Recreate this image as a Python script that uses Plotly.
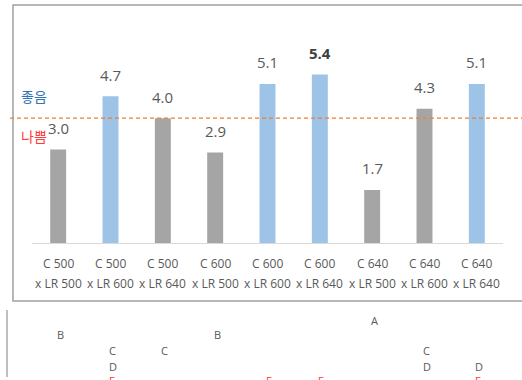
import plotly.graph_objects as go

# ---- data ----
cat_line1 = ["C 500", "C 500", "C 500", "C 600", "C 600", "C 600", "C 640", "C 640", "C 640"]
cat_line2 = ["x LR 500", "x LR 600", "x LR 640", "x LR 500", "x LR 600", "x LR 640", "x LR 500", "x LR 600", "x LR 640"]
scores = [3.0, 4.7, 4.0, 2.9, 5.1, 5.4, 1.7, 4.3, 5.1]
threshold = 4.0
sig_letters = ["B", "CD", "C", "B", "", "", "A", "CD", "D"]
red_marks = [False, True, False, False, True, True, False, False, True]

W, H = 522, 380
cats = [f"{a} {b}" for a, b in zip(cat_line1, cat_line2)]
best = max(scores)

def py(p):  # pixel-from-top -> paper y
    return (H - p) / H

ydom = [py(243), py(243 - 6 * 31.2)]
xdom = [32 / W, 503 / W]

colors = ["#9DC3E6" if v > 4.5 else "#A5A5A5" for v in scores]

fig = go.Figure()
fig.add_trace(go.Bar(x=cats, y=scores, marker=dict(color=colors, line=dict(width=0)),
                     hoverinfo="skip", showlegend=False))

ann = []
for c, v in zip(cats, scores):
    bold = v == best
    ann.append(dict(x=c, y=v, xref="x", yref="y", text=(f"<b>{v:.1f}</b>" if bold else f"{v:.1f}"),
                    showarrow=False, yshift=21.5, yanchor="middle",
                    font=dict(family="Open Sans", size=15, color="#404040" if bold else "#595959")))
for c, l1, l2 in zip(cats, cat_line1, cat_line2):
    ann.append(dict(x=c, y=py(263), xref="x", yref="paper", text=l1, showarrow=False, yanchor="middle",
                    font=dict(family="Open Sans", size=12, color="#595959")))
    ann.append(dict(x=c, y=py(283), xref="x", yref="paper", text=l2, showarrow=False, yanchor="middle",
                    font=dict(family="Open Sans", size=12, color="#595959")))

row_pix = {"A": 320, "B": 334.5, "C": 350, "D": 366}
for c, letters, red in zip(cats, sig_letters, red_marks):
    for L in letters:
        ann.append(dict(x=c, y=py(row_pix[L]), xref="x", yref="paper", text=L, showarrow=False,
                        yanchor="middle", xshift=2,
                        font=dict(family="Open Sans", size=11, color="#595959")))
    if red:
        ann.append(dict(x=c, y=py(381), xref="x", yref="paper", text="E", showarrow=False,
                        yanchor="middle", xshift=1,
                        font=dict(family="Open Sans", size=11, color="#FF3333")))

ann.append(dict(x=34 / W, y=py(96), xref="paper", yref="paper", text="좋음", showarrow=False,
                xanchor="center", yanchor="middle",
                font=dict(family="Noto Sans CJK KR", size=14, color="#2E75B6")))
ann.append(dict(x=34 / W, y=py(136), xref="paper", yref="paper", text="나쁨", showarrow=False,
                xanchor="center", yanchor="middle",
                font=dict(family="Noto Sans CJK KR", size=14, color="#FF3B3B")))

thr_paper = ydom[0] + threshold / 6 * (ydom[1] - ydom[0])
shapes = [
    dict(type="rect", xref="paper", yref="paper", x0=13 / W, x1=1.02, y0=py(301), y1=py(5),
         line=dict(color="#A0A0A0", width=1.5), layer="below"),
    dict(type="line", xref="paper", yref="paper", x0=10 / W, x1=1, y0=thr_paper, y1=thr_paper,
         line=dict(color="#ED7D31", width=1.3, dash="4px,3px")),
    dict(type="line", xref="paper", yref="paper", x0=7 / W, x1=7 / W, y0=py(310), y1=py(377),
         line=dict(color="#808080", width=1)),
]

fig.update_layout(
    width=W, height=H, autosize=False, margin=dict(l=0, r=0, t=0, b=0),
    paper_bgcolor="white", plot_bgcolor="white", bargap=0.695,
    xaxis=dict(domain=xdom, showline=True, linecolor="#D9D9D9", linewidth=1, showticklabels=False,
               ticks="", showgrid=False, zeroline=False, fixedrange=True),
    yaxis=dict(domain=ydom, range=[0, 6], visible=False, showgrid=False, zeroline=False),
    annotations=ann, shapes=shapes, showlegend=False,
)
fig.write_html("out.html")
